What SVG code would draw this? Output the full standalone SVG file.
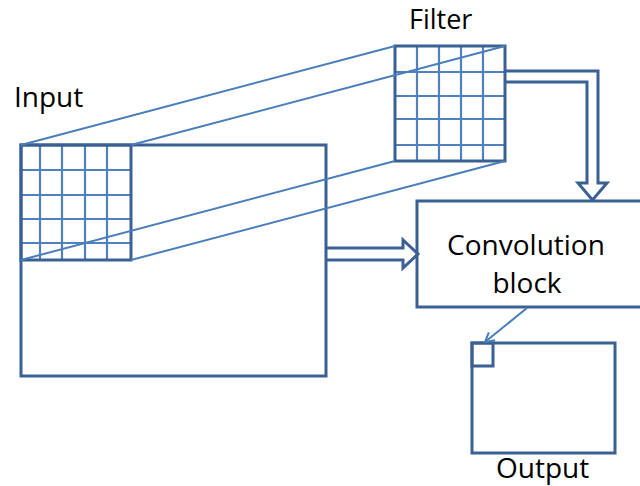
<svg xmlns="http://www.w3.org/2000/svg" width="640" height="486" viewBox="0 0 640 486">
  <style>
    .box { fill: none; stroke: #3B6194; stroke-width: 3; stroke-linejoin: miter; }
    .grid { fill: none; stroke: #4F81BD; stroke-width: 2.2; }
    .proj { fill: none; stroke: #4A7EBB; stroke-width: 2; }
    .block { fill: none; stroke: #3B6194; stroke-width: 3; stroke-linejoin: miter; }
    .lbl { font-family: "Open Sans", "Liberation Sans", sans-serif; font-size: 28px; fill: #000; }
  </style>
  <defs>
    <marker id="openArrow" markerWidth="12" markerHeight="12" refX="10" refY="6" orient="auto" markerUnits="userSpaceOnUse">
      <path d="M1,1 L10,6 L1,11" fill="none" stroke="#4A7EBB" stroke-width="2"/>
    </marker>
  </defs>

  <!-- Input image with the receptive-field grid -->
  <g id="input">
    <g class="grid">
      <path d="M40,145 V260 M62,145 V260 M85,145 V260 M107,145 V260"/>
      <path d="M21,170 H131 M21,195 H131 M21,219 H131 M21,243 H131"/>
    </g>
    <rect class="box" x="21" y="145" width="305" height="231"/>
    <rect class="box" x="21" y="145" width="110" height="115"/>
    <text class="lbl" x="14" y="107">Input</text>
  </g>

  <!-- Filter kernel -->
  <g id="filter">
    <rect x="395" y="46" width="110" height="115" fill="#fff"/>
    <g class="grid">
      <path d="M417,46 V161 M439,46 V161 M461,46 V161 M483,46 V161"/>
      <path d="M395,72 H505 M395,96 H505 M395,119 H505 M395,145 H505"/>
    </g>
    <rect class="box" x="395" y="46" width="110" height="115"/>
    <text class="lbl" x="409" y="29" style="font-size:27px">Filter</text>
  </g>

  <!-- Convolution block -->
  <g id="convolution">
    <rect class="box" x="417" y="201" width="230" height="106" fill="#fff"/>
    <text class="lbl" x="526" y="255" text-anchor="middle">Convolution</text>
    <text class="lbl" x="527" y="293" text-anchor="middle">block</text>
  </g>

  <!-- Output feature map -->
  <g id="output">
    <rect class="box" x="472" y="343" width="143" height="110"/>
    <rect class="box" x="472" y="343" width="21" height="23"/>
    <text class="lbl" x="496" y="478">Output</text>
  </g>

  <!-- Connectors -->
  <g id="connectors">
    <!-- projection of the receptive field onto the filter -->
    <path class="proj" d="M21,145 L395,46 M131,145 L505,46 M21,260 L395,161 M131,260 L505,161"/>
    <!-- filter into convolution block -->
    <path class="block" d="M505,71 H598 V183 H607 L592.5,200 L578,183 H587 V82 H505"/>
    <!-- input into convolution block -->
    <path class="block" d="M326,248 H403 V240 L418,254 L403,268 V260 H326"/>
    <!-- convolution result to one output cell -->
    <line x1="527" y1="308" x2="485" y2="342" stroke="#4A7EBB" stroke-width="2" marker-end="url(#openArrow)"/>
  </g>
</svg>
